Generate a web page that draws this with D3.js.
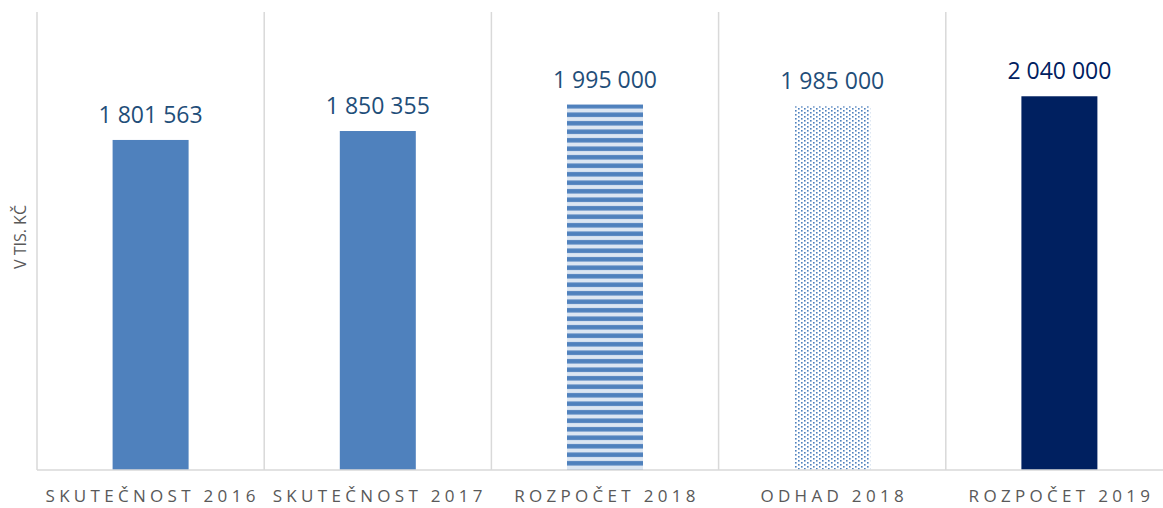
<!DOCTYPE html>
<html>
<head>
<meta charset="utf-8">
<script src="https://cdn.jsdelivr.net/npm/d3@7"></script>
<style>
  body { margin: 0; background: #fff; }
</style>
</head>
<body>
<div class="chart-container"></div>
<script>
const categories = ["SKUTEČNOST 2016", "SKUTEČNOST 2017", "ROZPOČET 2018", "ODHAD 2018", "ROZPOČET 2019"];
const values = [1801563, 1850355, 1995000, 1985000, 2040000];
const labels = ["1 801 563", "1 850 355", "1 995 000", "1 985 000", "2 040 000"];
const fills = ["solid", "solid", "stripes", "dots", "dark"];

function drawChart() {
    const width = 1163,
        height = 508;
    const margin = { top: 12, right: -10, bottom: 38, left: 37 };

    const svg = d3.select(".chart-container").append("svg")
        .attr("width", width)
        .attr("height", height);

    const defs = svg.append("defs");
    const stripes = defs.append("pattern")
        .attr("id", "stripes")
        .attr("patternUnits", "userSpaceOnUse")
        .attr("width", 8).attr("height", 8.5);
    stripes.append("rect").attr("width", 8).attr("height", 8.5).attr("fill", "#dce6f2");
    stripes.append("rect").attr("y", 2).attr("width", 8).attr("height", 4.5).attr("fill", "#4f81bd");

    const dots = defs.append("pattern")
        .attr("id", "dots")
        .attr("patternUnits", "userSpaceOnUse")
        .attr("width", 6).attr("height", 4);
    dots.append("rect").attr("width", 6).attr("height", 4).attr("fill", "#ffffff");
    dots.append("rect").attr("x", 0).attr("y", 0).attr("width", 1.6).attr("height", 1.6).attr("fill", "#4f81bd");
    dots.append("rect").attr("x", 3).attr("y", 2).attr("width", 1.6).attr("height", 1.6).attr("fill", "#4f81bd");

    const fillFor = {
        solid: "#4f81bd",
        stripes: "url(#stripes)",
        dots: "url(#dots)",
        dark: "#002060"
    };

    const x = d3.scaleBand()
        .domain(d3.range(categories.length))
        .range([margin.left, width - margin.right])
        .paddingInner(0)
        .paddingOuter(0);

    const y = d3.scaleLinear()
        .domain([0, 2500000])
        .range([height - margin.bottom, margin.top]);

    const barW = 76;

    // vertical category separators
    svg.append("g")
        .selectAll("line")
        .data(d3.range(categories.length + 1))
        .enter()
        .append("line")
            .attr("x1", i => i < categories.length ? x(i) : x(i - 1) + x.bandwidth())
            .attr("x2", i => i < categories.length ? x(i) : x(i - 1) + x.bandwidth())
            .attr("y1", margin.top)
            .attr("y2", y(0))
            .attr("stroke", "#d9d9d9")
            .attr("stroke-width", 1.5);

    svg.selectAll("rect.bar")
        .data(values)
        .enter()
        .append("rect")
            .attr("class", "bar")
            .attr("x", (d, i) => x(i) + x.bandwidth() / 2 - barW / 2)
            .attr("y", d => y(d))
            .attr("width", barW)
            .attr("height", d => y(0) - y(d))
            .attr("fill", (d, i) => fillFor[fills[i]]);

    svg.selectAll("text.value")
        .data(values)
        .enter()
        .append("text")
            .attr("class", "value")
            .attr("x", (d, i) => x(i) + x.bandwidth() / 2)
            .attr("y", d => y(d) - 17)
            .attr("text-anchor", "middle")
            .attr("font-family", "Open Sans, sans-serif")
            .attr("font-size", 23)
            .attr("fill", (d, i) => i === 4 ? "#002060" : "#1f4e79")
            .text((d, i) => labels[i]);

    // baseline
    svg.append("line")
        .attr("x1", margin.left)
        .attr("x2", width)
        .attr("y1", y(0))
        .attr("y2", y(0))
        .attr("stroke", "#d9d9d9")
        .attr("stroke-width", 1.5);

    const xAxis = g =>
        g.attr("transform", `translate(0, ${y(0)})`)
        .call(d3.axisBottom(x).tickFormat(i => categories[i]).tickSize(0).tickPadding(20));

    svg.append("g").call(xAxis)
        .call(g => g.select(".domain").remove())
        .selectAll("text")
            .attr("font-family", "Open Sans, sans-serif")
            .attr("font-size", 17)
            .attr("letter-spacing", 4.3)
            .attr("dx", 2)
            .attr("fill", "#595959");

    svg.append("text")
        .attr("transform", `translate(26, 237) rotate(-90)`)
        .attr("text-anchor", "middle")
        .attr("font-family", "Open Sans, sans-serif")
        .attr("font-size", 16)
        .attr("fill", "#595959")
        .text("V TIS. KČ");
}

drawChart();
</script>
</body>
</html>
